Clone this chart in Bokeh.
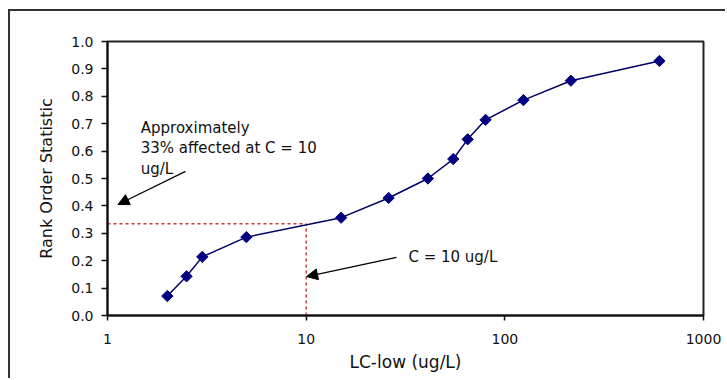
from bokeh.plotting import figure
from bokeh.models import Range1d, FixedTicker, PrintfTickFormatter, Arrow, NormalHead
from bokeh.embed import file_html
from bokeh.resources import INLINE
from bokeh.core.properties import value

# ---- data ----
lc_low = [2.0, 2.5, 3.0, 5.0, 15.0, 26.0, 41.0, 55.0, 65.0, 80.0, 124.0, 215.0, 600.0]
rank_stat = [0.071, 0.143, 0.214, 0.286, 0.357, 0.429, 0.500, 0.571, 0.643, 0.714, 0.786, 0.857, 0.929]

x_ticks = [1, 10, 100, 1000]
x_tick_labels = ["1", "10", "100", "1000"]
y_ticks = [0.0, 0.1, 0.2, 0.3, 0.4, 0.5, 0.6, 0.7, 0.8, 0.9, 1.0]

c_ref = 10.0          # C = 10 ug/L
p_ref = 0.335         # ~33% affected
ref_h_x = [1.0, c_ref]
ref_h_y = [p_ref, p_ref]
ref_v_x = [c_ref, c_ref]
ref_v_y = [0.0, p_ref]

note1_lines = ["Approximately", "33% affected at C = 10", "ug/L"]
note1_x = [1.47, 1.47, 1.47]
note1_y = [0.686, 0.611, 0.536]
arrow1 = dict(x_start=2.47, y_start=0.526, x_end=1.13, y_end=0.405)

note2_text = ["C = 10 ug/L"]
note2_x = [32.7]
note2_y = [0.213]
arrow2 = dict(x_start=28.5, y_start=0.212, x_end=10.05, y_end=0.142)

FONT = "DejaVu Sans"

p = figure(width=717, height=369, x_axis_type="log",
           x_range=Range1d(1, 1000), y_range=Range1d(0, 1),
           output_backend="svg", toolbar_location=None,
           min_border_left=97, min_border_right=24,
           min_border_top=30, min_border_bottom=65)
p.styles = {"margin-left": "8px", "margin-top": "9px",
            "border-left": "2px solid #333333", "border-top": "2px solid #333333"}

p.background_fill_color = "white"
p.border_fill_color = "white"
p.outline_line_color = "#222222"
p.outline_line_width = 2
p.xgrid.grid_line_color = None
p.ygrid.grid_line_color = None

# axes
for ax in (p.xaxis[0], p.yaxis[0]):
    ax.axis_line_color = "#111111"
    ax.axis_line_width = 2
    ax.major_tick_line_color = "#111111"
    ax.major_tick_line_width = 1.5
    ax.major_tick_in = 0
    ax.minor_tick_line_color = None
    ax.major_label_text_font = FONT
    ax.major_label_text_font_size = "14px"
    ax.major_label_text_color = "#111111"
    ax.axis_label_text_font = FONT
    ax.axis_label_text_font_size = "16px"
    ax.axis_label_text_font_style = "normal"
    ax.axis_label_text_color = "#111111"

p.xaxis.ticker = FixedTicker(ticks=x_ticks)
p.xaxis.major_label_overrides = {t: l for t, l in zip(x_ticks, x_tick_labels)}
p.xaxis.major_tick_out = 5
p.xaxis.major_label_standoff = 13
p.xaxis.axis_label = "LC-low (ug/L)"
p.xaxis.axis_label_text_font_size = "17px"
p.xaxis.axis_label_standoff = 5

p.yaxis.ticker = FixedTicker(ticks=y_ticks)
p.yaxis.formatter = PrintfTickFormatter(format="%.1f")
p.yaxis.major_tick_out = 6
p.yaxis.major_label_standoff = 8
p.yaxis.axis_label = "Rank Order Statistic"
p.yaxis.axis_label_standoff = 12

# reference lines
p.line(ref_h_x, ref_h_y, line_color="#c83a3a", line_width=1.5, line_dash="3 3")
p.line(ref_v_x, ref_v_y, line_color="#c83a3a", line_width=1.5, line_dash="3 3")

# data series
p.line(lc_low, rank_stat, line_color="#000066", line_width=1.5)
p.scatter(lc_low, rank_stat, marker="square", angle=0.7853981634, size=8,
          fill_color="#000080", line_color="#000080")

# annotations
p.text(x=note1_x, y=note1_y, text=note1_lines, text_font=value(FONT),
       text_font_size="15px", text_color="#111111",
       text_align="left", text_baseline="alphabetic")
p.text(x=note2_x, y=note2_y, text=note2_text, text_font=value(FONT),
       text_font_size="15px", text_color="#111111",
       text_align="left", text_baseline="alphabetic")

for a in (arrow1, arrow2):
    p.add_layout(Arrow(end=NormalHead(size=11, fill_color="black", line_color="black"),
                       line_color="black", line_width=1.2, **a))

open("out.html", "w").write(file_html(p, INLINE))
